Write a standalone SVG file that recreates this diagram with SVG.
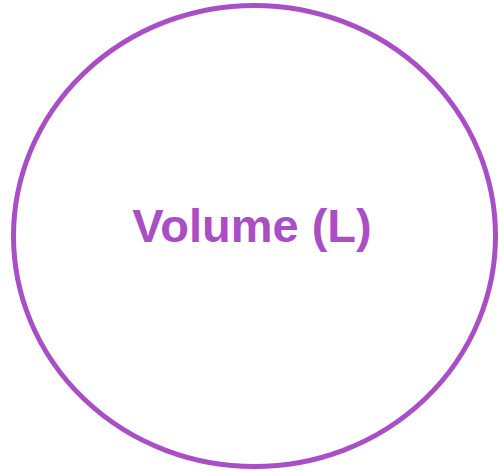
<svg xmlns="http://www.w3.org/2000/svg" width="500" height="472" viewBox="0 0 500 472">
<style>
.n{fill:#ffffff;stroke:#a84fc6;stroke-width:5}
.t{font-family:"Liberation Sans",Arial,sans-serif;font-weight:bold;font-size:47px;fill:#a84fc6;text-anchor:middle}
</style>
<rect width="500" height="472" fill="#ffffff"/>
<g id="node-volume">
<ellipse class="n" cx="254.5" cy="236" rx="241" ry="230.5"/>
<text class="t" x="252" y="241.5">Volume (L)</text>
</g>
<g id="connectors"/>
</svg>
